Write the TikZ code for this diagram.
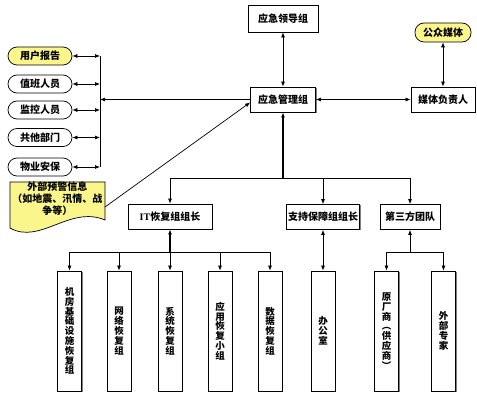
\documentclass[tikz,border=0pt]{standalone}
\usepackage{fontspec}
\setmainfont{Noto Sans CJK SC}
\newfontfamily\latinbf{Liberation Serif}
\usetikzlibrary{arrows.meta,shadows}
\definecolor{noteyellow}{RGB}{250,246,140}

\begin{document}
\begin{tikzpicture}[x=1pt, y=-1pt, >={Latex[length=5pt,width=4pt]},
	every node/.style={font=\fontsize{10}{12}\selectfont\bfseries, inner sep=1pt},
	mgbox/.style={draw, line width=0.8pt, fill=white, drop shadow={shadow xshift=1pt, shadow yshift=-1pt, fill=black!50, opacity=1}},
	pillbox/.style={draw, line width=0.7pt, fill=white, rounded corners=9pt, minimum width=64pt, minimum height=18pt},
	tallbox/.style={mgbox, minimum width=24pt, minimum height=120pt, align=center, font=\fontsize{9.5}{9.8}\selectfont\bfseries},
	link/.style={line width=0.7pt},
	trunk/.style={line width=1.6pt}]
	\useasboundingbox (0,0) rectangle (477,401);
	\node[mgbox, minimum width=70pt, minimum height=27pt] (lead) at (283,18.5) {应急领导组};
	\node[mgbox, minimum width=65pt, minimum height=25pt] (mgmt) at (283,99.5) {应急管理组};
	\node[mgbox, minimum width=64pt, minimum height=25pt] (media) at (443,99.5) {媒体负责人};
	\node[pillbox, fill=noteyellow, minimum width=56pt, minimum height=19pt] (public) at (443,32.5) {公众媒体};
	\node[pillbox, fill=noteyellow] (user) at (40,56) {用户报告};
	\node[pillbox] (duty) at (40,84) {值班人员};
	\node[pillbox] (monitor) at (40,110) {监控人员};
	\node[pillbox] (other) at (40,137.5) {共他部门};
	\node[pillbox] (guard) at (40,167) {物业安保};
	\draw[line width=0.7pt, fill=noteyellow] (10,182) -- (105,182) -- (105,220) .. controls (70,205) and (40,245) .. (10,228) -- cycle;
	\node[align=center] (warn) at (57.5,199) {外部预警信息\\（如地震、汛情、战\\争等）};
	\coordinate (warnout) at (105,207);
	\node[mgbox, minimum width=84pt, minimum height=25pt] (itlead) at (170,216.5) {{\latinbf IT}恢复组组长};
	\node[mgbox, minimum width=73pt, minimum height=25pt] (support) at (323,217) {支持保障组组长};
	\node[mgbox, minimum width=60pt, minimum height=25pt] (third) at (410,217) {第三方团队};
	\node[tallbox] (room) at (69.5,331) {机\\房\\基\\础\\设\\施\\恢\\复\\组};
	\node[tallbox] (net) at (119,331) {网\\络\\恢\\复\\组};
	\node[tallbox] (sys) at (170,331) {系\\统\\恢\\复\\组};
	\node[tallbox] (app) at (220,331) {应\\用\\恢\\复\\小\\组};
	\node[tallbox] (data) at (270,331) {数\\据\\恢\\复\\组};
	\node[tallbox] (office) at (323,331) {办\\公\\室};
	\node[tallbox] (vendor) at (386.5,331) {原\\厂\\商\\︵\\供\\应\\商\\︶};
	\node[tallbox] (expert) at (443.5,331) {外\\部\\专\\家};

	\draw[<->, link] (lead) -- (mgmt);
	\draw[<->, link] (public) -- (media);
	\draw[<->, link] (mgmt) -- (media);
	\coordinate (busL) at (100,99.5);
	\draw[link] (user.east -| busL) -- (guard.east -| busL);
	\draw[<->, link] (user.east) -- (user.east -| busL);
	\draw[<->, link] (duty.east) -- (duty.east -| busL);
	\draw[<->, link] (monitor.east) -- (monitor.east -| busL);
	\draw[<->, link] (other.east) -- (other.east -| busL);
	\draw[<->, link] (guard.east) -- (guard.east -| busL);
	\draw[->, link] (mgmt.west) -- (busL);
	\draw[->, link] (warnout) -- ([yshift=-3pt]mgmt.west);

	\coordinate (busTop) at (283,178);
	\draw[<-, trunk] (mgmt.south) -- (busTop);
	\draw[->, link] (busTop) -| (itlead.north);
	\draw[->, link] (busTop) -| (third.north);
	\draw[->, link] (support.north |- busTop) -- (support.north);

	\coordinate (busIT) at (170,252);
	\draw[<-, trunk] (itlead.south) -- (busIT);
	\draw[->, link] (busIT) -| (room.north);
	\draw[->, link] (busIT) -| (data.north);
	\draw[->, link] (busIT) -- (sys.north);
	\draw[->, link] (net.north |- busIT) -- (net.north);
	\draw[->, link] (app.north |- busIT) -- (app.north);

	\draw[<->, link] (support) -- (office);
	\coordinate (busThird) at (410,252);
	\draw[<-, link] (third.south) -- (busThird);
	\draw[->, link] (busThird) -| (vendor.north);
	\draw[->, link] (busThird) -| (expert.north);
\end{tikzpicture}
\end{document}
